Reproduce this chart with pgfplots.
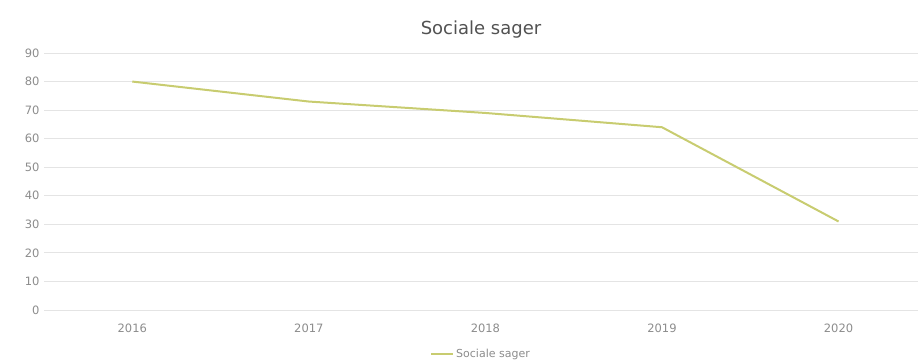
\documentclass[border=0pt]{standalone}
\usepackage{pgfplots}
\pgfplotsset{compat=1.18}
\usetikzlibrary{calc}
\usepackage{fontspec}
\setmainfont{DejaVu Sans}
\definecolor{lineol}{RGB}{200,204,112}
\definecolor{ticktxt}{RGB}{140,140,140}
\definecolor{gridc}{RGB}{228,228,228}
\begin{document}
\begin{tikzpicture}
\begin{axis}[
  scale only axis,
  width=874pt, height=257pt,
  xmin=-0.5, xmax=4.45,
  ymin=0, ymax=90,
  ytick={0,10,...,90},
  xtick={0,1,2,3,4},
  xticklabels={2016,2017,2018,2019,2020},
  ymajorgrids,
  major grid style={gridc, line width=0.8pt},
  axis line style={draw=none},
  major tick style={draw=none},
  tick label style={font=\fontsize{11.5}{13}\selectfont, text=ticktxt},
  xticklabel style={yshift=-10pt},
  yticklabel style={xshift=-1pt},
  /pgf/number format/assume math mode=true,
  title={Sociale sager},
  title style={font=\fontsize{18}{21}\selectfont, text=black!68, at={(0.5,1)}, anchor=center, yshift=17pt},
  legend style={at={(0.5,0)}, anchor=center, yshift=-44pt, draw=none, fill=none,
    font=\fontsize{11}{12}\selectfont, text=ticktxt, inner sep=0pt,
    legend image code/.code={\draw[#1] (0cm,0pt) -- (22pt,0pt);}},
  legend cell align=left,
]
\addplot[lineol, line width=2pt] coordinates {(0,80) (1,73) (2,69) (3,64) (4,31)};
\addlegendentry{Sociale sager}
\coordinate (O) at (rel axis cs:0,0);
\end{axis}
\pgfresetboundingbox
\path[use as bounding box] ($(O)+(-44pt,-53pt)$) rectangle ++(921pt,363pt);
\end{tikzpicture}
\end{document}
